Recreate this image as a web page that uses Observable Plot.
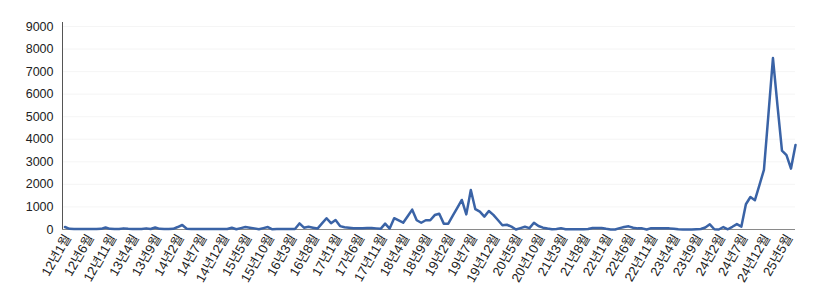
<!DOCTYPE html>
<html><head><meta charset="utf-8">
<script src="https://cdn.jsdelivr.net/npm/d3@7"></script>
<script src="https://cdn.jsdelivr.net/npm/@observablehq/plot@0.6"></script>
<style>body{margin:0;background:#fff}</style>
</head><body><div id="chart"></div>
<script>
const tickLabels = ["12년1월","12년6월","12년11월","13년4월","13년9월","14년2월","14년7월","14년12월","15년5월","15년10월","16년3월","16년8월","17년1월","17년6월","17년11월","18년4월","18년9월","19년2월","19년7월","19년12월","20년5월","20년10월","21년3월","21년8월","22년1월","22년6월","22년11월","23년4월","23년9월","24년2월","24년7월","24년12월","25년5월"];
const tickStep = 5;
const yTicks = [0,1000,2000,3000,4000,5000,6000,7000,8000,9000];
const values = [
110,30,20,20,20,20,20,20,30,90,
30,20,20,50,30,20,20,20,50,20,
90,30,20,20,30,110,200,30,20,20,
20,20,20,20,20,20,20,80,10,60,
110,80,50,10,60,110,10,20,20,20,
20,20,270,80,120,80,40,270,500,280,
420,150,100,80,60,60,60,70,70,50,
30,260,40,500,400,300,590,880,410,300,
410,410,640,700,260,260,610,960,1310,670,
1750,900,790,570,820,650,420,190,210,125,
0,60,120,60,300,155,80,40,10,20,
60,10,10,10,10,10,20,70,70,70,
30,0,0,60,110,140,80,50,50,0,
60,60,50,50,50,30,10,0,0,0,
10,20,90,230,10,0,110,10,120,240,
130,1120,1440,1300,1970,2640,5100,7600,5500,3500,
3300,2700,3750
];

const data = values.map((v, i) => ({i, v}));
const tickIdx = tickLabels.map((_, k) => k * tickStep);
const xMin = -0.55;

const chart = Plot.plot({
  width: 834, height: 293,
  marginLeft: 62, marginRight: 39, marginTop: 26, marginBottom: 64,
  style: {fontFamily: "'Liberation Sans', 'Noto Sans CJK KR', sans-serif", fontSize: "12px", color: "#222", background: "#fff"},
  x: {type: "linear", domain: [xMin, values.length - 1], axis: null},
  y: {domain: [0, 9000], axis: null},
  marks: [
    Plot.gridY(yTicks, {stroke: "#ececec", strokeOpacity: 0.5}),
    Plot.axisY(yTicks, {tickSize: 0, tickPadding: 9, fontSize: 12.5, label: null, fill: "#222", tickFormat: d3.format("d")}),
    Plot.axisX(tickIdx, {tickSize: 0, tickPadding: 6, tickRotate: -60, fontSize: 13, label: null, fill: "#222", dx: 3,
      tickFormat: d => tickLabels[Math.round(d / tickStep)]}),
    Plot.ruleY([0], {stroke: "#8a8a8a", strokeWidth: 1}),
    Plot.ruleX([xMin], {stroke: "#555", strokeWidth: 1, insetTop: -4}),
    Plot.lineY(data, {x: "i", y: "v", stroke: "#3a63a6", strokeWidth: 2.5, strokeLinejoin: "round"})
  ]
});
document.getElementById("chart").append(chart);
</script>
</body></html>
